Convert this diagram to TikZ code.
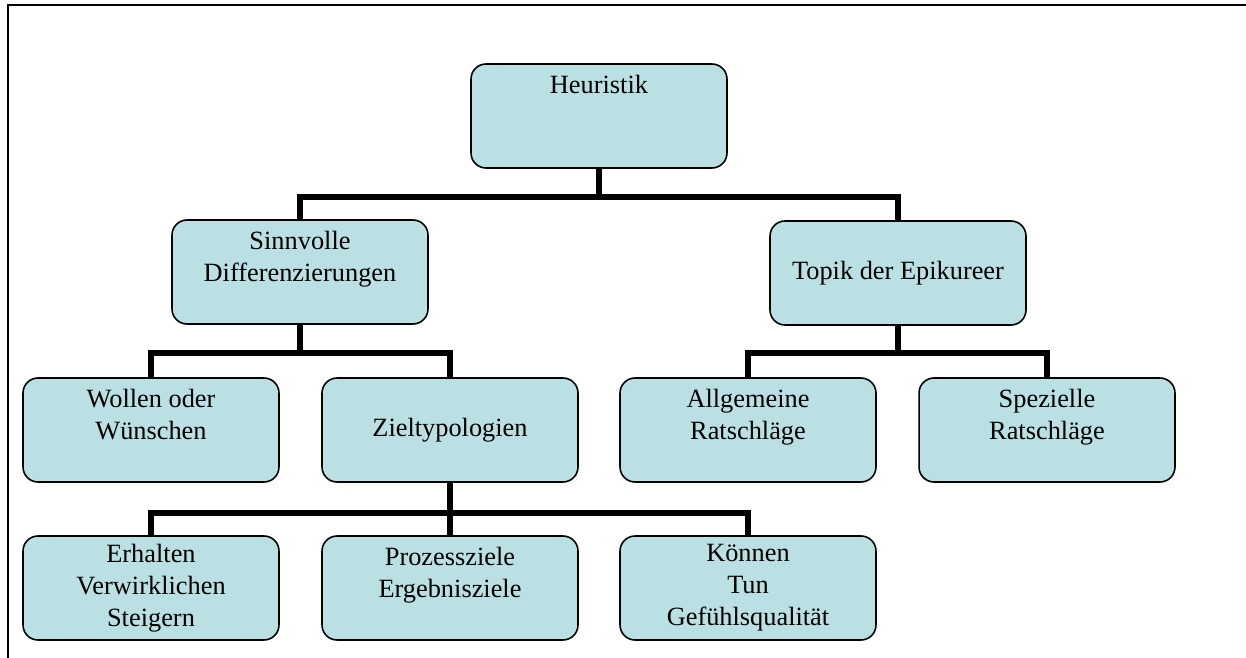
\documentclass[tikz,border=0pt]{standalone}
\usepackage{fontspec}
\setmainfont{Liberation Serif}
\usepackage{tikz}
\definecolor{boxfill}{RGB}{186,224,227}

\begin{document}
\begin{tikzpicture}[x=0.02cm, y=-0.02cm,
    box/.style={draw=black, line width=0.9pt, fill=boxfill, rounded corners=0.3cm,
      minimum width=5.12cm, minimum height=2.08cm, align=center,
      font=\fontsize{15}{18.2}\selectfont},
    link/.style={line width=3.4pt},
    frame/.style={line width=1.7pt}]
  \useasboundingbox (0,0) rectangle (1246,658);
  % outer frame, open on the right and at the bottom
  \draw[frame] (8,658) -- (8,5) -- (1246,5);
  % top level
  \node[box] (heur) at (599,116) {Heuristik\\~\\~};
  % second level
  \node[box] (sinn) at (300,272) {Sinnvolle\\Differenzierungen\\~};
  \node[box] (topik) at (898,273) {Topik der Epikureer};
  % third level
  \node[box] (wollen) at (151,430) {Wollen oder\\W\"unschen\\~};
  \node[box] (ziel) at (450,430) {Zieltypologien};
  \node[box] (allg) at (748,430) {Allgemeine\\Ratschl\"age\\~};
  \node[box] (spez) at (1047,430) {Spezielle\\Ratschl\"age\\~};
  % fourth level
  \node[box] (erh) at (151,588) {Erhalten\\Verwirklichen\\Steigern};
  \node[box] (proz) at (450,588) {Prozessziele\\Ergebnisziele\\~};
  \node[box] (koenn) at (748,588) {K\"onnen\\Tun\\Gef\"uhlsqualit\"at};
  % heights of the horizontal bars
  \coordinate (barA) at (0,197);
  \coordinate (barB) at (0,353);
  \coordinate (barC) at (0,513);
  % connectors
  \draw[link] (heur.south) -- (heur.south |- barA);
  \draw[link] (sinn.north) |- (heur.south |- barA) -| (topik.north);
  \draw[link] (sinn.south) -- (sinn.south |- barB);
  \draw[link] (wollen.north) |- (sinn.south |- barB) -| (ziel.north);
  \draw[link] (topik.south) -- (topik.south |- barB);
  \draw[link] (allg.north) |- (topik.south |- barB) -| (spez.north);
  \draw[link] (ziel.south) -- (ziel.south |- barC);
  \draw[link] (erh.north) |- (ziel.south |- barC) -| (koenn.north);
  \draw[link] (proz.north) -- (proz.north |- barC);
\end{tikzpicture}
\end{document}
